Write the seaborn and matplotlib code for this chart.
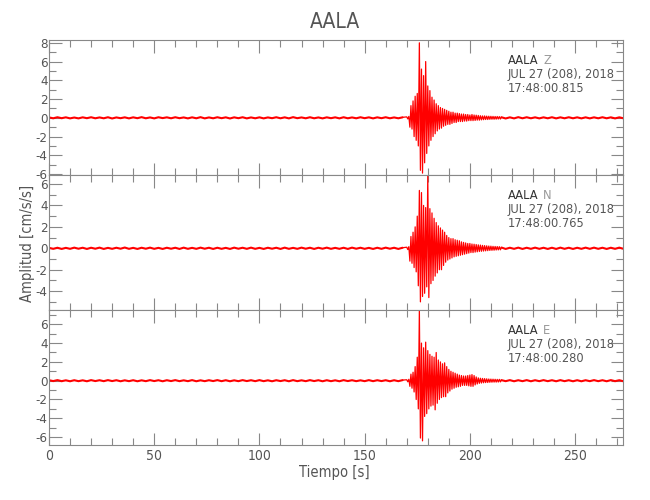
import numpy as np
import pandas as pd
import matplotlib
matplotlib.use("Agg")
import matplotlib.pyplot as plt
import seaborn as sns
from matplotlib.ticker import MultipleLocator

# Station / header info
station = "AALA"
components = ["Z", "N", "E"]
date_label = "JUL 27 (208), 2018"
start_times = ["17:48:00.815", "17:48:00.765", "17:48:00.280"]

noise_dt = 2.0
event_start = 170.0
event_dt = 0.5
post_start = 215.0

# Pre-event noise (0 - 168 s, every 2 s)
z_pre = [0.04, -0.05, 0.06, -0.04, 0.05, -0.06, 0.03, -0.06, 0.05, -0.04,
         0.06, -0.05, 0.04, -0.05, 0.06, -0.07, 0.04, -0.04, 0.05, -0.06,
         0.05, -0.04, 0.07, -0.05, 0.04, -0.06, 0.06, -0.03, 0.05, -0.05,
         0.06, -0.04, 0.04, -0.06, 0.05, -0.05, 0.07, -0.06, 0.04, -0.05,
         0.06, -0.04, 0.05, -0.07, 0.05, -0.04, 0.06, -0.06, 0.04, -0.05,
         0.05, -0.06, 0.04, -0.04, 0.06, -0.05, 0.05, -0.06, 0.07, -0.04,
         0.04, -0.05, 0.06, -0.05, 0.04, -0.06, 0.05, -0.04, 0.05, -0.06,
         0.06, -0.05, 0.04, -0.05, 0.06, -0.04, 0.05, -0.06, 0.05, -0.04,
         0.06, -0.05, 0.04, -0.05, 0.05]
n_pre = [0.04, -0.05, 0.05, -0.06, 0.04, -0.05, 0.06, -0.04, 0.05, -0.06,
         0.05, -0.04, 0.06, -0.06, 0.04, -0.05, 0.05, -0.04, 0.07, -0.05,
         0.04, -0.06, 0.05, -0.04, 0.06, -0.05, 0.04, -0.06, 0.05, -0.04,
         0.05, -0.06, 0.06, -0.05, 0.04, -0.05, 0.06, -0.04, 0.05, -0.06,
         0.05, -0.05, 0.04, -0.06, 0.06, -0.04, 0.05, -0.05, 0.06, -0.05,
         0.04, -0.06, 0.05, -0.04, 0.05, -0.06, 0.06, -0.05, 0.04, -0.05,
         0.06, -0.04, 0.05, -0.06, 0.05, -0.04, 0.06, -0.05, 0.04, -0.05,
         0.05, -0.06, 0.06, -0.04, 0.05, -0.05, 0.04, -0.06, 0.05, -0.05,
         0.06, -0.04, 0.05, -0.06, 0.05]
e_pre = [0.05, -0.04, 0.06, -0.05, 0.04, -0.06, 0.05, -0.05, 0.04, -0.06,
         0.06, -0.04, 0.05, -0.05, 0.06, -0.04, 0.05, -0.06, 0.04, -0.05,
         0.05, -0.06, 0.04, -0.05, 0.06, -0.04, 0.05, -0.06, 0.05, -0.04,
         0.06, -0.05, 0.04, -0.05, 0.06, -0.06, 0.04, -0.05, 0.05, -0.04,
         0.06, -0.05, 0.05, -0.06, 0.04, -0.05, 0.06, -0.04, 0.05, -0.05,
         0.06, -0.05, 0.04, -0.06, 0.05, -0.04, 0.05, -0.06, 0.06, -0.05,
         0.04, -0.05, 0.06, -0.04, 0.05, -0.06, 0.05, -0.05, 0.04, -0.06,
         0.06, -0.04, 0.05, -0.05, 0.04, -0.05, 0.06, -0.05, 0.05, -0.04,
         0.05, -0.06, 0.05, -0.05, 0.06]

# Event window (170 - 214.5 s, every 0.5 s)
z_event = [0.1, -0.12, 0.15, -1.0, 1.3, -1.2, 1.8, -2.0, 2.3, -2.4,
           2.6, -3.0, 8.0, -5.6, 5.2, -5.9, 4.5, -4.8, 6.0, -3.8,
           3.4, -3.0, 2.9, -2.4, 2.2, -2.0, 1.9, -1.7, 1.5, -1.4,
           1.3, -1.2, 1.1, -1.1, 1.0, -0.9, 0.9, -0.8, 0.8, -0.7,
           0.7, -0.7, 0.6, -0.6, 0.6, -0.5, 0.5, -0.5, 0.5, -0.4,
           0.45, -0.4, 0.4, -0.4, 0.4, -0.35, 0.35, -0.35, 0.35, -0.3,
           0.3, -0.3, 0.35, -0.3, 0.3, -0.28, 0.28, -0.25, 0.25, -0.25,
           0.22, -0.22, 0.2, -0.2, 0.2, -0.18, 0.18, -0.18, 0.17, -0.16,
           0.16, -0.15, 0.15, -0.15, 0.14, -0.14, 0.14, -0.13, 0.13, -0.13]
n_event = [0.1, -0.12, 0.15, -1.2, 1.1, -1.4, 1.5, -1.8, 2.0, -2.2,
           3.0, -3.5, 5.4, -5.0, 5.2, -4.5, 4.0, -4.2, 3.8, -3.6,
           6.85, -4.6, 3.7, -3.3, 3.3, -3.0, 2.8, -2.6, 2.4, -2.3,
           2.1, -2.0, 1.9, -2.0, 1.7, -1.6, 1.5, -1.3, 1.2, -1.1,
           1.0, -1.0, 0.9, -0.9, 0.9, -0.8, 0.8, -0.75, 0.75, -0.7,
           0.7, -0.65, 0.6, -0.6, 0.55, -0.55, 0.5, -0.5, 0.45, -0.45,
           0.45, -0.4, 0.4, -0.4, 0.38, -0.36, 0.35, -0.33, 0.32, -0.3,
           0.3, -0.28, 0.27, -0.26, 0.25, -0.24, 0.23, -0.22, 0.21, -0.2,
           0.2, -0.19, 0.18, -0.18, 0.17, -0.16, 0.16, -0.15, 0.15, -0.14]
e_event = [0.1, -0.12, 0.15, -0.6, 0.7, -0.8, 0.9, -1.2, 1.5, -2.0,
           2.5, -3.0, 7.5, -6.1, 4.0, -6.4, 3.5, -3.8, 4.1, -3.5,
           3.2, -3.0, 2.8, -2.7, 2.6, -2.6, 2.5, -3.1, 3.0, -2.4,
           2.2, -2.0, 2.0, -1.8, 1.8, -1.7, 1.9, -1.7, 1.5, -1.3,
           1.2, -1.1, 1.0, -0.9, 0.9, -0.8, 0.8, -0.7, 0.7, -0.65,
           0.6, -0.6, 0.55, -0.5, 0.5, -0.5, 0.5, -0.5, 0.55, -0.55,
           0.6, -0.6, 0.65, -0.6, 0.55, -0.45, 0.4, -0.35, 0.3, -0.28,
           0.26, -0.25, 0.24, -0.22, 0.22, -0.2, 0.2, -0.19, 0.18, -0.17,
           0.17, -0.16, 0.16, -0.15, 0.15, -0.15, 0.14, -0.14, 0.14, -0.13]

# Post-event noise (215 - 273 s, every 2 s)
z_post = [0.06, -0.07, 0.05, -0.06, 0.07, -0.05, 0.06, -0.05, 0.05, -0.06,
          0.05, -0.05, 0.06, -0.06, 0.05, -0.05, 0.06, -0.05, 0.05, -0.06,
          0.05, -0.06, 0.05, -0.05, 0.06, -0.05, 0.05, -0.06, 0.05, -0.05]
n_post = [0.07, -0.06, 0.05, -0.05, 0.06, -0.06, 0.05, -0.05, 0.06, -0.05,
          0.05, -0.06, 0.05, -0.06, 0.06, -0.05, 0.05, -0.06, 0.05, -0.05,
          0.06, -0.05, 0.06, -0.05, 0.05, -0.06, 0.05, -0.05, 0.06, -0.05]
e_post = [0.06, -0.05, 0.06, -0.06, 0.05, -0.05, 0.06, -0.06, 0.05, -0.05,
          0.06, -0.05, 0.05, -0.06, 0.06, -0.05, 0.05, -0.06, 0.05, -0.06,
          0.05, -0.05, 0.06, -0.05, 0.05, -0.06, 0.06, -0.05, 0.05, -0.06]

traces = {"Z": (z_pre, z_event, z_post),
          "N": (n_pre, n_event, n_post),
          "E": (e_pre, e_event, e_post)}

# axis ranges (IDL used the data range of each trace)
ylims = [(-6.1, 8.3), (-5.76, 6.84), (-6.84, 7.52)]

sns.set_style("ticks")
plt.rcParams['font.family'] = ['DejaVu Sans']
plt.rcParams['font.stretch'] = 'condensed'
plt.rcParams['axes.unicode_minus'] = False
grey = "#888888"
txt = "#555555"

fig, axes = plt.subplots(3, 1, figsize=(6.5, 5), dpi=100, sharex=True)
fig.subplots_adjust(left=0.0754, right=0.9592, top=0.92, bottom=0.11, hspace=0)

for i, (ax, comp) in enumerate(zip(axes, components)):
    pre, ev, post = traces[comp]
    t_pre = np.arange(len(pre)) * noise_dt
    t_ev = event_start + np.arange(len(ev)) * event_dt
    t_post = post_start + np.arange(len(post)) * noise_dt
    quiet = pd.DataFrame({"t": np.concatenate([t_pre, [np.nan], t_post]),
                          "amp": np.concatenate([pre, [np.nan], post])})
    burst = pd.DataFrame({"t": np.concatenate([t_pre[-1:], t_ev, t_post[:1]]),
                          "amp": np.concatenate([pre[-1:], ev, post[:1]])})
    # noise band drawn thicker, the burst thin so the oscillations show
    ax.plot(quiet["t"], quiet["amp"], color="red", linewidth=1.5)
    sns.lineplot(data=burst, x="t", y="amp", ax=ax, color="red",
                 linewidth=0.9, estimator=None, sort=False)
    ax.set_xlim(0, 273)
    ax.set_ylim(*ylims[i])
    ax.yaxis.set_major_locator(MultipleLocator(2))
    ax.yaxis.set_minor_locator(MultipleLocator(1))
    ax.xaxis.set_major_locator(MultipleLocator(50))
    ax.xaxis.set_minor_locator(MultipleLocator(10))
    ax.tick_params(which="both", direction="in", top=True, right=True,
                   color=grey, labelcolor=txt, labelsize=10, width=0.8)
    ax.tick_params(which="major", length=9)
    ax.tick_params(which="minor", length=5)
    ax.tick_params(axis="y", pad=1, labelsize=9.5)
    ax.tick_params(axis="x", pad=3)
    for s in ax.spines.values():
        s.set_color(grey)
        s.set_linewidth(0.8)
    ax.set_xlabel("")
    ax.set_ylabel("")

    ax.text(0.799, 0.85, station, transform=ax.transAxes, color="#333333",
            fontsize=9.2, va="center")
    ax.text(0.86, 0.85, comp, transform=ax.transAxes, color="#999999",
            fontsize=9.2, va="center")
    ax.text(0.799, 0.745, date_label, transform=ax.transAxes, color=txt,
            fontsize=9.2, va="center")
    ax.text(0.799, 0.64, start_times[i], transform=ax.transAxes, color=txt,
            fontsize=9.2, va="center")

fig.text(0.515, 0.054, "Tiempo [s]", color=txt, fontsize=10.5,
         ha="center", va="center")
fig.text(0.042, 0.514, "Amplitud [cm/s/s]", rotation=90, color=txt,
         fontsize=10.5, ha="center", va="center")
fig.text(0.515, 0.957, station, color=txt, fontsize=15,
         ha="center", va="center")

plt.savefig("out.png", dpi=100)
